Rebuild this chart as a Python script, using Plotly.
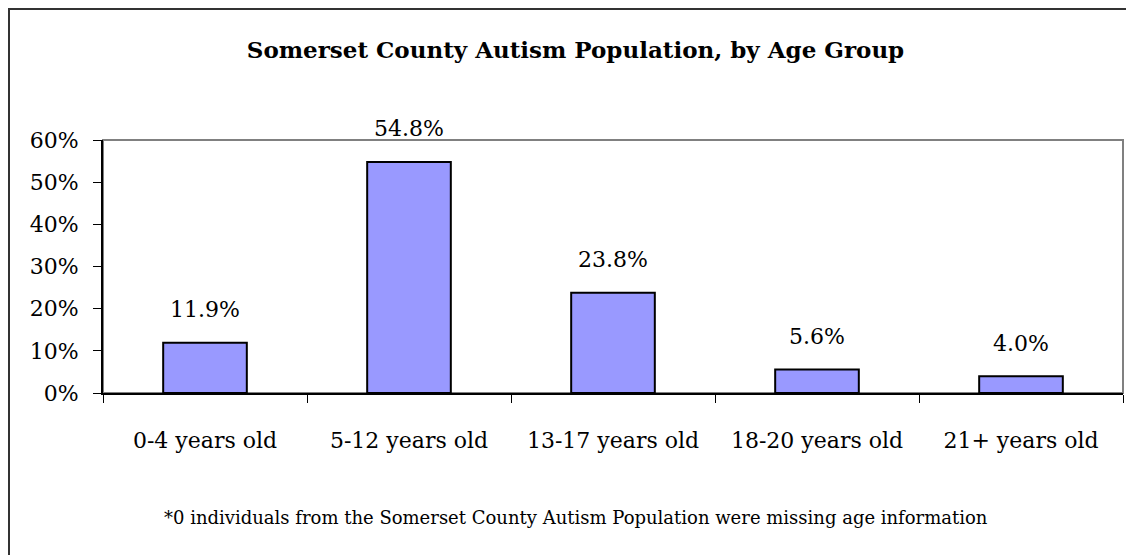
import plotly.graph_objects as go

# data
age_groups = ["0-4 years old", "5-12 years old", "13-17 years old",
              "18-20 years old", "21+ years old"]
share = [0.119, 0.548, 0.238, 0.056, 0.040]
y_ticks = [0.0, 0.1, 0.2, 0.3, 0.4, 0.5, 0.6]

TITLE = "Somerset County Autism Population, by Age Group"
NOTE = ("*0 individuals from the Somerset County Autism Population "
        "were missing age information")

# the page has an 8px body margin, so figure px = screen px - 8
W, H = 1134, 555
L, T = 95, 132
PW, PH = 1020, 253
R, B = W - L - PW, H - T - PH
FONT = "DejaVu Serif"
BAR_FILL = "#9999FF"


def px(x):
    return (x - L) / PW


def py(y):
    return (T + PH - y) / PH


fig = go.Figure()
fig.add_trace(go.Bar(x=age_groups, y=share, width=0.41,
                     marker=dict(color=BAR_FILL, line=dict(color="black", width=2)),
                     hoverinfo="x+y"))

# value labels sit ~33px above each bar
for cat, v in zip(age_groups, share):
    fig.add_annotation(x=cat, y=v, text=f"{v:.1%}", showarrow=False,
                       yanchor="middle", yshift=33,
                       font=dict(family=FONT, size=22, color="black"))

fig.add_annotation(x=px(568), y=py(509), xref="paper", yref="paper",
                   text=NOTE, showarrow=False, xanchor="center", yanchor="middle",
                   font=dict(family=FONT, size=18, color="black"))

# plot-area frame (gray top/right) and outer chart border at the figure edge
fig.add_shape(type="rect", xref="paper", yref="paper", x0=0, x1=1, y0=0, y1=1,
              line=dict(color="#808080", width=2), layer="below")
fig.add_shape(type="rect", xref="paper", yref="paper",
              x0=px(1), x1=px(W + 20), y0=py(H + 20), y1=py(1),
              line=dict(color="#333333", width=2), layer="below")

fig.update_xaxes(showline=True, linecolor="black", linewidth=2,
                 ticks="outside", tickson="boundaries", ticklen=8, tickcolor="black",
                 tickwidth=1, ticklabelstandoff=27,
                 tickfont=dict(family=FONT, size=22, color="black"),
                 showgrid=False, fixedrange=True)
fig.update_yaxes(range=[0, 0.6], tickvals=y_ticks, tickformat=".0%",
                 showline=True, linecolor="black", linewidth=2,
                 ticks="outside", ticklen=8, tickcolor="black", tickwidth=1,
                 ticklabelstandoff=10,
                 tickfont=dict(family=FONT, size=22, color="black"),
                 showgrid=False, zeroline=False, fixedrange=True)

fig.update_layout(
    title=dict(text=f"<b>{TITLE}</b>", x=567.5 / W, xanchor="center",
               y=1 - 42 / H, yanchor="middle",
               font=dict(family=FONT, size=23, color="black")),
    width=W, height=H, margin=dict(l=L, r=R, t=T, b=B),
    paper_bgcolor="white", plot_bgcolor="white", showlegend=False,
)

fig.write_html("out.html")
